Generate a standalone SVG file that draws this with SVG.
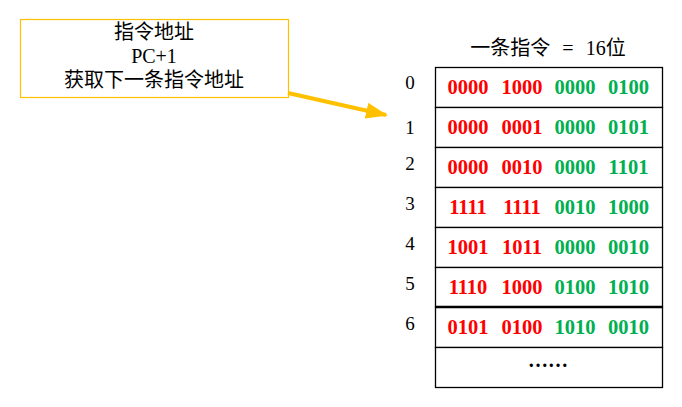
<svg xmlns="http://www.w3.org/2000/svg" width="682" height="407" viewBox="0 0 682 407">
<defs>
<style>
.cjk{font-family:"Liberation Serif","Noto Sans CJK SC",serif;font-size:20px;fill:#000}
.bin{font-family:"Liberation Serif","Noto Sans CJK SC",serif;font-size:20.5px;font-weight:bold;text-anchor:middle}
.r{fill:#FF0000}
.g{fill:#00B050}
.idx{font-family:"Liberation Serif","Noto Sans CJK SC",serif;font-size:19px;fill:#000;text-anchor:middle}
.cell{fill:#fff;stroke:#000;stroke-width:1.3}
</style>
<marker id="ah" markerUnits="userSpaceOnUse" markerWidth="24" markerHeight="18" refX="20" refY="8" orient="auto">
<path d="M0,0 L22,8 L0,16 Z" fill="#FFC000"/>
</marker>
</defs>
<rect width="682" height="407" fill="#fff"/>
<g id="note">
<rect x="20.5" y="19.5" width="268" height="78" fill="#fff" stroke="#FFC000" stroke-width="1.2"/>
<text class="cjk" x="154" y="39" text-anchor="middle">指令地址</text>
<text class="cjk" x="154" y="63" text-anchor="middle">PC+1</text>
<text class="cjk" x="154" y="87" text-anchor="middle">获取下一条指令地址</text>
</g>
<g id="connectors">
<line x1="288" y1="93" x2="386" y2="115" stroke="#FFC000" stroke-width="4" marker-end="url(#ah)"/>
</g>
<g id="title">
<text class="cjk" x="548" y="55" text-anchor="middle" word-spacing="7">一条指令 = 16位</text>
</g>
<g id="indices">
<text class="idx" x="410" y="89">0</text>
<text class="idx" x="410" y="134">1</text>
<text class="idx" x="410" y="170">2</text>
<text class="idx" x="410" y="210">3</text>
<text class="idx" x="410" y="250">4</text>
<text class="idx" x="410" y="290">5</text>
<text class="idx" x="410" y="330">6</text>
</g>
<g id="row0"><rect class="cell" x="435.5" y="67.5" width="227" height="40"/>
<text class="bin" y="94"><tspan class="r" x="468">0000</tspan><tspan class="r" x="522">1000</tspan><tspan class="g" x="575">0000</tspan><tspan class="g" x="628.5">0100</tspan></text></g>
<g id="row1"><rect class="cell" x="435.5" y="107.5" width="227" height="40"/>
<text class="bin" y="134"><tspan class="r" x="468">0000</tspan><tspan class="r" x="522">0001</tspan><tspan class="g" x="575">0000</tspan><tspan class="g" x="628.5">0101</tspan></text></g>
<g id="row2"><rect class="cell" x="435.5" y="147.5" width="227" height="40"/>
<text class="bin" y="174"><tspan class="r" x="468">0000</tspan><tspan class="r" x="522">0010</tspan><tspan class="g" x="575">0000</tspan><tspan class="g" x="628.5">1101</tspan></text></g>
<g id="row3"><rect class="cell" x="435.5" y="187.5" width="227" height="40"/>
<text class="bin" y="214"><tspan class="r" x="468">1111</tspan><tspan class="r" x="522">1111</tspan><tspan class="g" x="575">0010</tspan><tspan class="g" x="628.5">1000</tspan></text></g>
<g id="row4"><rect class="cell" x="435.5" y="227.5" width="227" height="40"/>
<text class="bin" y="254"><tspan class="r" x="468">1001</tspan><tspan class="r" x="522">1011</tspan><tspan class="g" x="575">0000</tspan><tspan class="g" x="628.5">0010</tspan></text></g>
<g id="row5"><rect class="cell" x="435.5" y="267.5" width="227" height="39.5"/>
<text class="bin" y="294"><tspan class="r" x="468">1110</tspan><tspan class="r" x="522">1000</tspan><tspan class="g" x="575">0100</tspan><tspan class="g" x="628.5">1010</tspan></text></g>
<g id="row6"><rect class="cell" x="435.5" y="307" width="227" height="40.5"/>
<text class="bin" y="334"><tspan class="r" x="468">0101</tspan><tspan class="r" x="522">0100</tspan><tspan class="g" x="575">1010</tspan><tspan class="g" x="628.5">0010</tspan></text></g>
<g id="row7"><rect class="cell" x="435.5" y="347.5" width="227" height="40"/>
<text class="cjk" x="548" y="367" text-anchor="middle" font-size="16" font-weight="bold">……</text></g>
<line x1="435" y1="307" x2="663" y2="307" stroke="#000" stroke-width="2.5"/>
</svg>
